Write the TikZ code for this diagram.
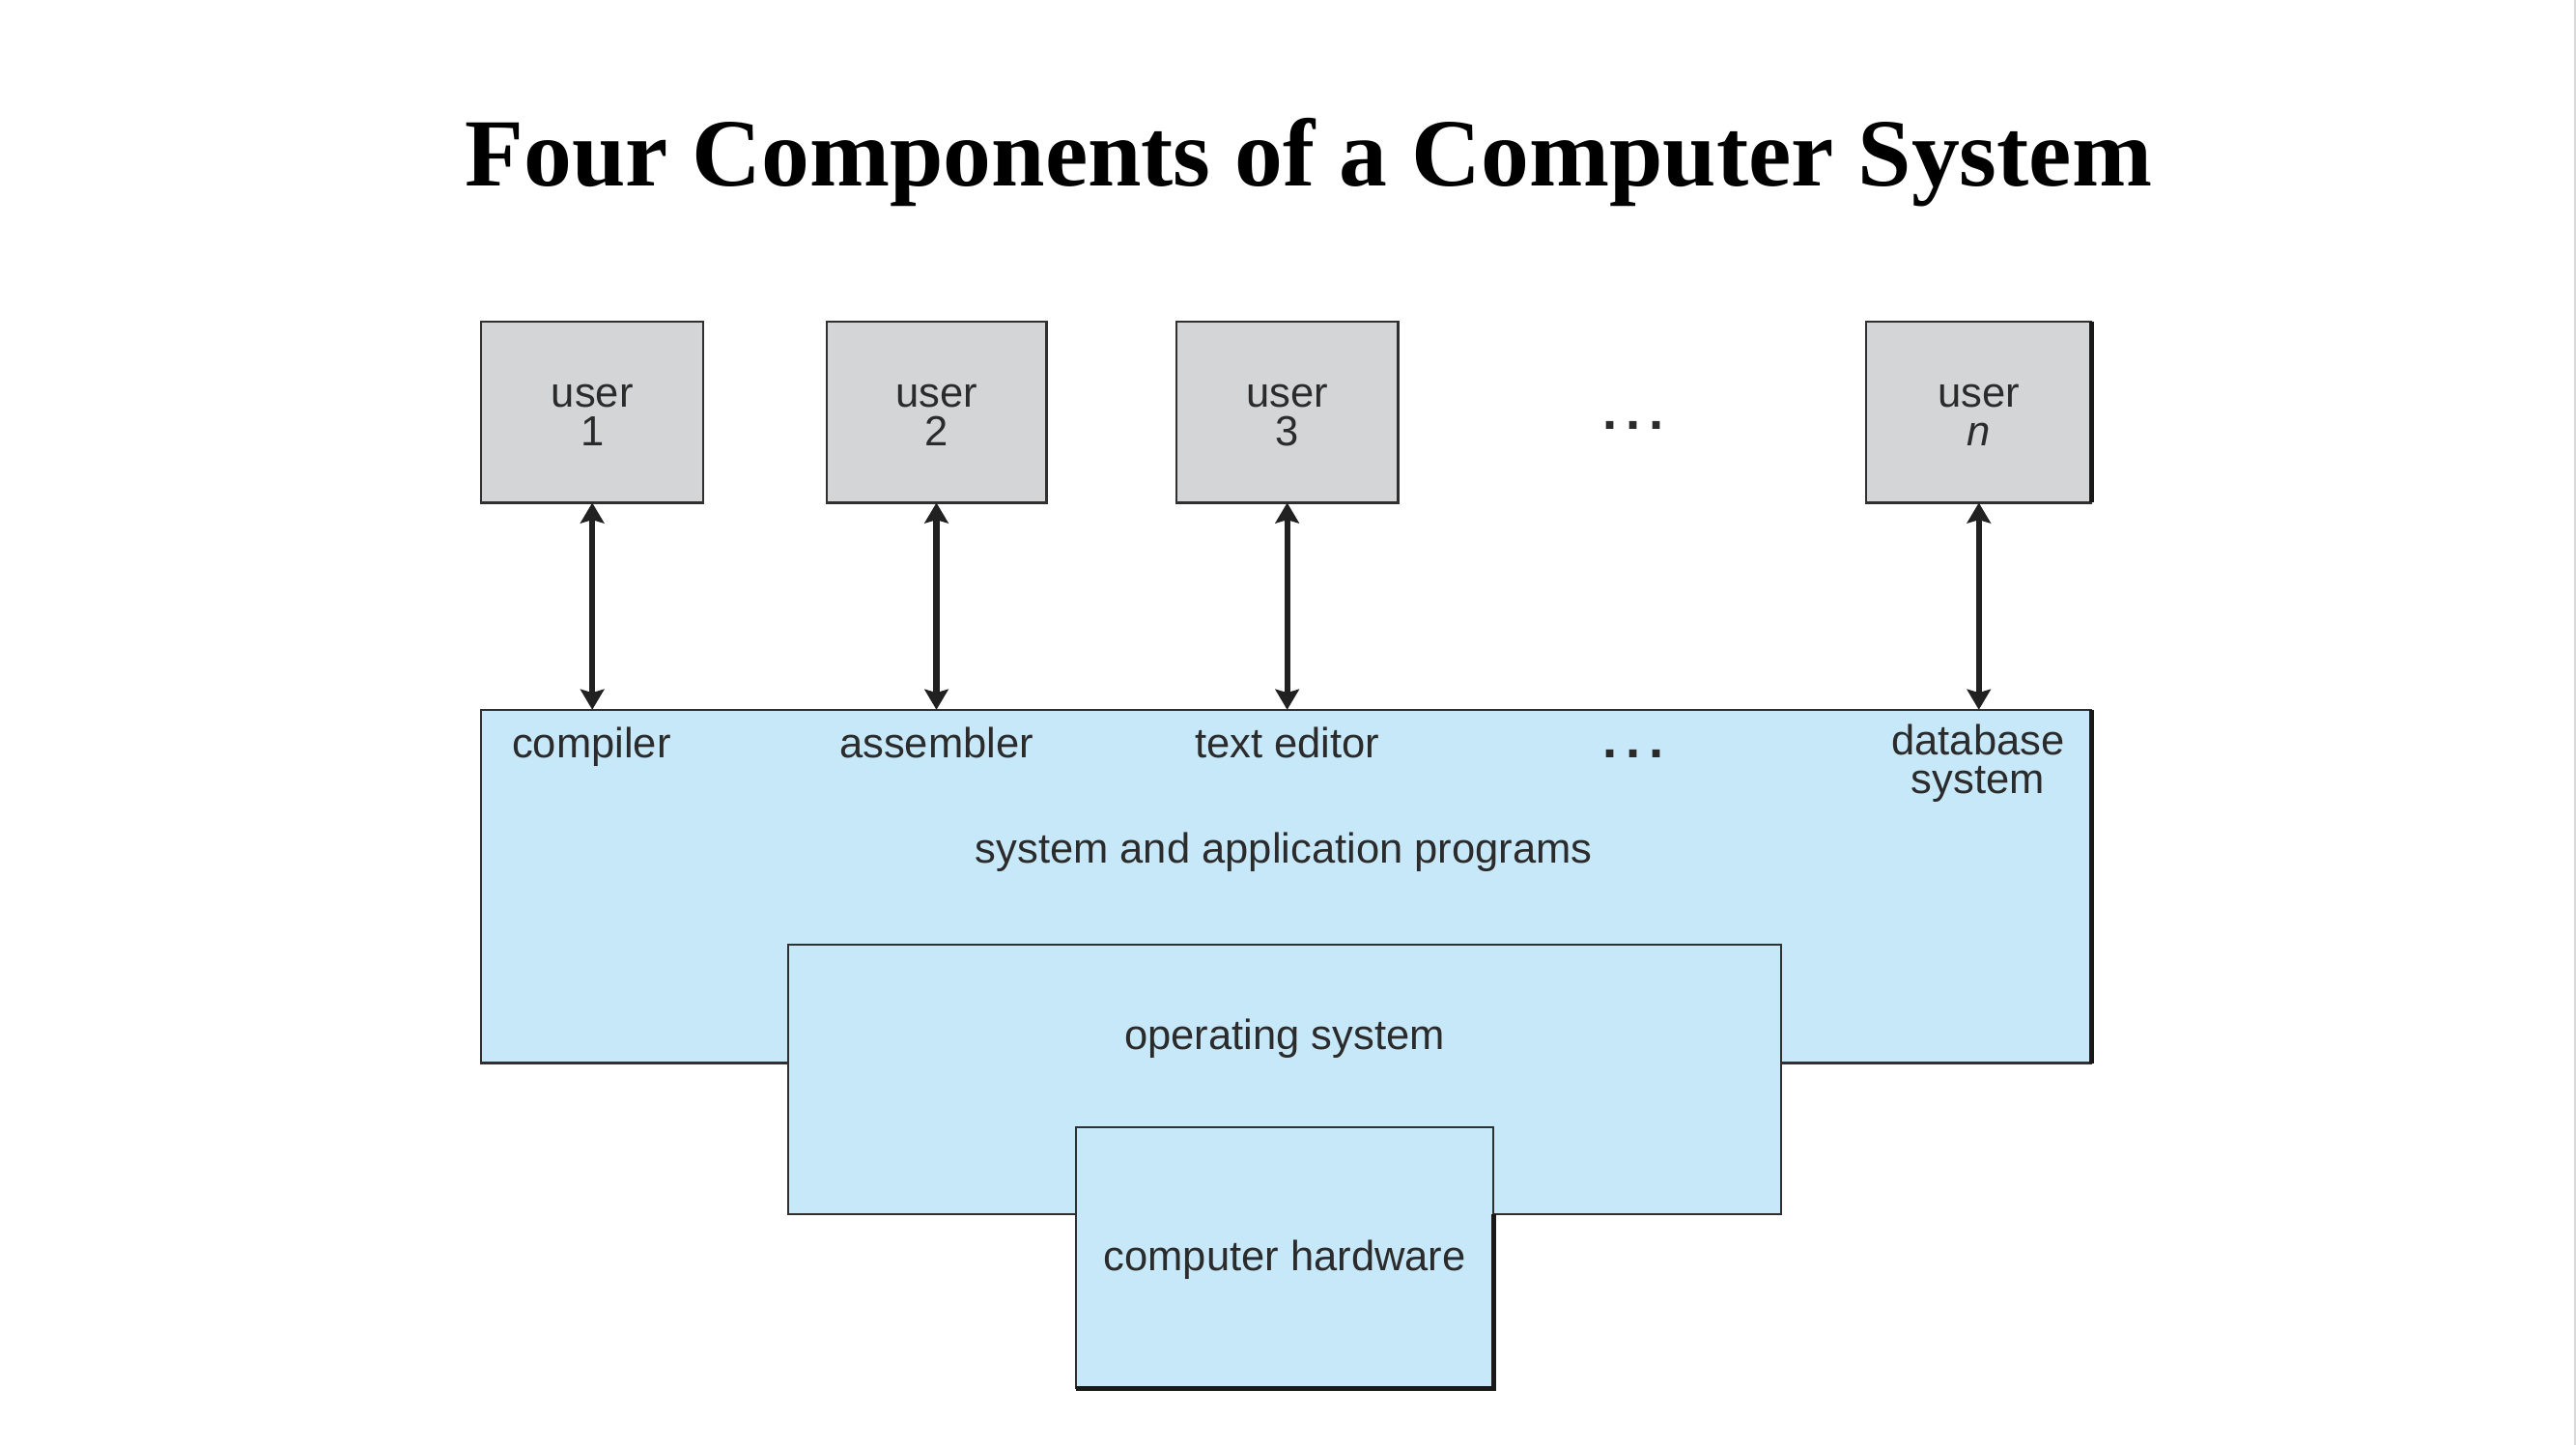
\documentclass[tikz,border=0pt]{standalone}
\usepackage{fontspec}
\setmainfont{Liberation Serif}
\newfontfamily\labelfont{Liberation Sans}
\usetikzlibrary{arrows.meta}
\definecolor{usergray}{HTML}{D3D5D6}
\definecolor{layerblue}{HTML}{C7E8F9}
\definecolor{edge}{HTML}{303030}
\definecolor{ink}{HTML}{2B2B2B}
\newcommand{\ellipsisdots}{.\hspace{2.6pt}.\hspace{2.6pt}.}
\begin{document}
\begin{tikzpicture}[x=0.5pt,y=-0.5pt,
  box/.style={draw=edge, line width=0.6pt, inner sep=0pt, outer sep=0pt},
  userbox/.style={box, fill=usergray, minimum height=55pt},
  layer/.style={box, fill=layerblue},
  lbl/.style={font=\labelfont\fontsize{12.8}{11.8}\selectfont, text=ink,
    inner sep=0pt, align=center, anchor=base},
  dots/.style={font=\labelfont\bfseries\fontsize{16}{16}\selectfont, text=ink,
    inner sep=0pt, anchor=base},
  tip/.tip={Stealth[length=6.2pt,width=7.2pt,inset=1pt]},
  conn/.style={draw=black!87, line width=1.8pt, tip-tip},
  shade/.style={draw=black!90, line width=1.4pt}
]
\useasboundingbox[fill=white] (0,0) rectangle (1568,879.6);
\draw[black!15, line width=0.5pt] (1567.4,0) -- (1567.4,879.6);

% heading
\node[font=\bfseries\fontsize{29.3}{36}\selectfont, anchor=base, inner sep=0pt]
  (title) at (796.5,113) {Four Components of a Computer System};

% users
\node[userbox, minimum width=67.5pt] (u1) at (360.5,251) {};
\node[userbox, minimum width=67pt]   (u2) at (570,251)   {};
\node[userbox, minimum width=67.5pt] (u3) at (783.5,251) {};
\node[userbox, minimum width=68.5pt] (un) at (1204.5,251) {};
\draw[shade] (un.north east) -- (un.south east);
\node[lbl] (u1l) at (360.5,271.5) {user\\1};
\node[lbl] (u2l) at (570,271.5)   {user\\2};
\node[lbl] (u3l) at (783.5,271.5) {user\\3};
\node[lbl] (unl) at (1204.5,271.5) {user\\\textit{n}};
\node[dots] (udots) at (994,261.5) {\ellipsisdots};

% layers
\node[layer, minimum width=490pt, minimum height=107.5pt] (app) at (783,539.5) {};
\node[layer, minimum width=302pt, minimum height=82pt]    (os)  at (782,657) {};
\node[layer, minimum width=127pt, minimum height=79.5pt]  (hw)  at (782,765.5) {};
\draw[shade] (app.north east) -- (app.south east);
\draw[shade] (hw.south west) -- (hw.south east) -- (hw.north east |- os.south);

% programs
\node[lbl] (comp) at (360,461)   {compiler};
\node[lbl] (asm)  at (570,461)   {assembler};
\node[lbl] (ted)  at (783.5,461) {text editor};
\node[dots] (pdots) at (994,461.5) {\ellipsisdots};
\node[lbl] (db)   at (1204,483)  {database\\system};
\node[lbl] (sap)  at (781.5,525.5) {system and application programs};
\node[lbl] (osl)  at (782,638.5) {operating system};
\node[lbl] (hwl)  at (782,773.5) {computer hardware};

% user <-> program links
\draw[conn] (u1.south) -- (u1.south |- app.north);
\draw[conn] (u2.south) -- (u2.south |- app.north);
\draw[conn] (u3.south) -- (u3.south |- app.north);
\draw[conn] (un.south) -- (un.south |- app.north);
\end{tikzpicture}
\end{document}
